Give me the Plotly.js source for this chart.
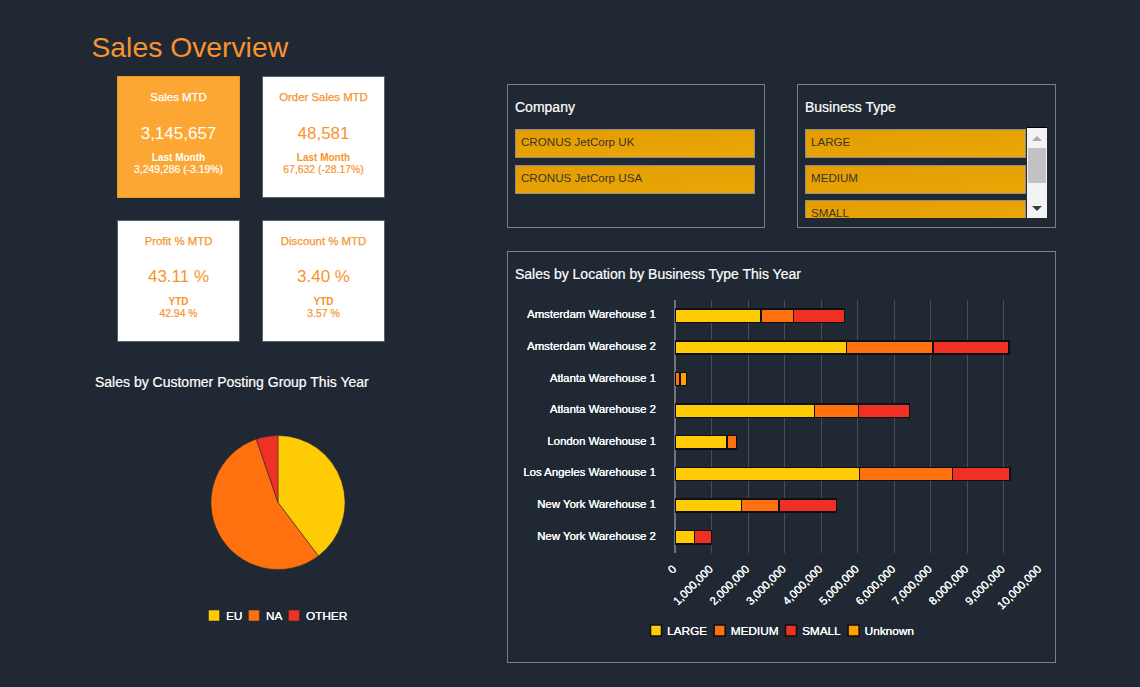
<!DOCTYPE html>
<html>
<head>
<meta charset="utf-8">
<script src="https://cdn.plot.ly/plotly-3.0.1.min.js"></script>
<style>
html,body{margin:0;padding:0;width:1140px;height:687px;overflow:hidden;background:#202833;font-family:"Liberation Sans",Arial,sans-serif}
h1{position:absolute;left:91.5px;top:30px;margin:0;font-size:28.3px;font-weight:400;line-height:34px;color:#f7942d;white-space:nowrap}
.card{position:absolute;width:121px;height:120px;background:#fff;border:1px solid #56616c;color:#f7942d;text-align:center;box-sizing:content-box}
.card.hot{background:#fca733;border-color:#e8962a;color:#fff}
.card div{position:absolute;left:0;right:0;white-space:nowrap}
.ct{top:12.5px;font-size:11.4px;line-height:14px;font-weight:400;-webkit-text-stroke:.25px currentColor}
.cv{top:45.5px;font-size:17px;line-height:22px}
.card.low .cv{top:44.5px}
.cs{top:75px;font-size:10px;line-height:12px;font-weight:700}
.cd{top:87px;font-size:10.4px;line-height:12px;-webkit-text-stroke:.2px currentColor}
.panel{position:absolute;border:1px solid #78808a;box-sizing:border-box}
.ptitle{position:absolute;font-size:14px;line-height:16px;color:#fff;white-space:nowrap;-webkit-text-stroke:.2px #fff}
.item{position:absolute;box-sizing:border-box;border:1px solid #8d8e8c;background:linear-gradient(175deg,#e39c04,#eaa806);color:#3b3524;font-size:11.6px;line-height:23px;padding-left:5px;white-space:nowrap;overflow:hidden}
.sb{position:absolute;left:1027px;top:127px;width:20px;height:91px;background:#f2f3f5;border-top:1px solid #000;box-sizing:border-box}
.thumb{position:absolute;left:1px;right:1px;top:20px;height:35px;background:#c2c2c4}
.up,.dn{position:absolute;left:5px;width:0;height:0;border-left:5px solid transparent;border-right:5px solid transparent}
.up{top:8px;border-bottom:5px solid #a9a9a9}
.dn{bottom:7px;border-top:5px solid #3c3c3c}
#bars{position:absolute;left:507px;top:251px;width:549px;height:412px}
#pie{position:absolute;left:78px;top:420px;width:400px;height:215px}
</style>
</head>
<body>
<h1>Sales Overview</h1>

<div class="card hot" style="left:117px;top:76px"><div class="ct">Sales MTD</div><div class="cv">3,145,657</div><div class="cs">Last Month</div><div class="cd">3,249,286 (-3.19%)</div></div>
<div class="card" style="left:262px;top:76px"><div class="ct">Order Sales MTD</div><div class="cv">48,581</div><div class="cs">Last Month</div><div class="cd">67,632 (-28.17%)</div></div>
<div class="card low" style="left:117px;top:220px"><div class="ct">Profit % MTD</div><div class="cv">43.11 %</div><div class="cs">YTD</div><div class="cd">42.94 %</div></div>
<div class="card low" style="left:262px;top:220px"><div class="ct">Discount % MTD</div><div class="cv">3.40 %</div><div class="cs">YTD</div><div class="cd">3.57 %</div></div>

<div class="ptitle" style="left:95px;top:374px">Sales by Customer Posting Group This Year</div>

<div class="panel" style="left:507px;top:84px;width:258px;height:144px"></div>
<div class="ptitle" style="left:515px;top:99px">Company</div>
<div class="item" style="left:515px;top:129px;width:240px;height:29px">CRONUS JetCorp UK</div>
<div class="item" style="left:515px;top:165px;width:240px;height:29px">CRONUS JetCorp USA</div>

<div class="panel" style="left:797px;top:84px;width:259px;height:144px"></div>
<div class="ptitle" style="left:805px;top:99px">Business Type</div>
<div class="item" style="left:805px;top:129px;width:221px;height:29px">LARGE</div>
<div class="item" style="left:805px;top:165px;width:221px;height:29px">MEDIUM</div>
<div class="item" style="left:805px;top:200px;width:221px;height:18px;border-bottom:0">SMALL</div>
<div class="sb"><div class="up"></div><div class="thumb"></div><div class="dn"></div></div>

<div class="panel" style="left:507px;top:251px;width:549px;height:412px"></div>
<div class="ptitle" style="left:515px;top:266px">Sales by Location by Business Type This Year</div>

<div id="bars"></div>
<div id="pie"></div>

<script>
// Sales by Location by Business Type This Year
const locations = ["Amsterdam Warehouse 1","Amsterdam Warehouse 2","Atlanta Warehouse 1","Atlanta Warehouse 2","London Warehouse 1","Los Angeles Warehouse 1","New York Warehouse 1","New York Warehouse 2"];
const largeSales   = [2360000,4700000,null,3820000,1420000,5050000,1820000,540000];
const mediumSales  = [880000,2370000,140000,1210000,270000,2550000,1030000,null];
const smallSales   = [1400000,2080000,null,1390000,null,1580000,1570000,460000];
const unknownSales = [null,null,180000,null,null,null,null,null];
const seriesNames  = ["LARGE","MEDIUM","SMALL","Unknown"];
const seriesColors = ["#ffcb05","#ff700f","#ef3024","#ffa000"];
const xTicks = [0,1000000,2000000,3000000,4000000,5000000,6000000,7000000,8000000,9000000,10000000];

// Sales by Customer Posting Group This Year
const groups = ["EU","NA","OTHER"];
const groupShare = [39.7,55.05,5.25];
const groupColors = ["#ffcb05","#ff700f","#ef3024"];

const FONT = '"Liberation Sans", Arial, sans-serif';
const labelFont = {family:FONT,size:11.4,color:"#ffffff",shadow:"0.3px 0 0 #ffffff"};
const legendFont = {family:FONT,size:11.8,color:"#ffffff",shadow:"0.2px 0 0 #ffffff"};

const barSeries = [largeSales,mediumSales,smallSales,unknownSales];
const barTraces = barSeries.map((vals,i)=>({
  type:"bar",orientation:"h",name:seriesNames[i],x:vals,y:locations,
  width:0.42,
  marker:{color:seriesColors[i],line:{color:"#0d0f12",width:1.5}},
  hoverinfo:"x+y+name"
}));

const barLayout = {
  width:549,height:412,
  paper_bgcolor:"rgba(0,0,0,0)",plot_bgcolor:"rgba(0,0,0,0)",
  margin:{l:168,r:16.4,t:49,b:110},
  barmode:"stack",
  font:labelFont,
  xaxis:{range:[0,10000000],tickvals:xTicks,ticktext:xTicks.map(v=>v.toLocaleString("en-US")),tickangle:-45,
    showgrid:true,gridcolor:"#464e58",gridwidth:1,zeroline:true,zerolinecolor:"#6c747e",zerolinewidth:2,
    showline:false,ticks:"outside",ticklen:4,tickcolor:"rgba(0,0,0,0)",tickfont:labelFont},
  yaxis:{autorange:"reversed",showgrid:false,zeroline:false,showline:false,ticks:"outside",ticklen:16,tickcolor:"rgba(0,0,0,0)",tickfont:labelFont},
  showlegend:true,
  legend:{orientation:"h",xref:"container",yref:"container",x:0.235,xanchor:"left",y:0.114,yanchor:"top",font:legendFont,bgcolor:"rgba(0,0,0,0)",itemclick:false,itemdoubleclick:false,traceorder:"normal"}
};

const pieTrace = {
  type:"pie",labels:groups,values:groupShare,sort:false,direction:"clockwise",rotation:0,
  marker:{colors:groupColors,line:{color:"#202833",width:0.5}},
  textinfo:"none",hoverinfo:"label+percent",
  domain:{x:[0.3325,0.6675],y:[0.1457,0.9114]}
};
const pieLayout = {
  width:400,height:215,paper_bgcolor:"rgba(0,0,0,0)",
  margin:{l:0,r:0,t:0,b:40},
  font:legendFont,showlegend:true,
  legend:{orientation:"h",xref:"container",yref:"container",x:0.29,xanchor:"left",y:0.158,yanchor:"top",font:legendFont,bgcolor:"rgba(0,0,0,0)",itemclick:false,itemdoubleclick:false,traceorder:"normal"}
};

// Tighten legend entries: the reference keeps its swatches 7px from their text.
function tightenLegend(gd,dx,textShift){
  gd.querySelectorAll(".legend .traces").forEach((el,i)=>{
    const m=/translate\(([-\d.]+)[ ,]+([-\d.]+)\)/.exec(el.getAttribute("transform")||"");
    if(m) el.setAttribute("transform","translate("+(parseFloat(m[1])-i*dx)+","+m[2]+")");
    const t=el.querySelector(".legendtext");
    if(t) t.setAttribute("x",parseFloat(t.getAttribute("x"))-textShift);
    el.querySelectorAll(".legendpoints path, .legendsymbols path").forEach(p=>{
      if(p.getAttribute("d")==="M6,6H-6V-6H6Z") p.setAttribute("d","M5.5,5.5H-5.5V-5.5H5.5Z");
    });
  });
}
function nudge(gd,sel,dx,dy){
  const g=gd.querySelector(sel);
  if(g) g.setAttribute("transform","translate("+dx+","+dy+")");
}

Promise.all([
  Plotly.newPlot("bars",barTraces,barLayout,{displayModeBar:false}),
  Plotly.newPlot("pie",[pieTrace],pieLayout,{displayModeBar:false})
]).then(([b,p])=>{
  tightenLegend(b,21.5,9);tightenLegend(p,21.5,8);
  nudge(b,".yaxislayer-above",0,-1.5);
  nudge(b,".xaxislayer-above",-2,0);
});
</script>
</body>
</html>
